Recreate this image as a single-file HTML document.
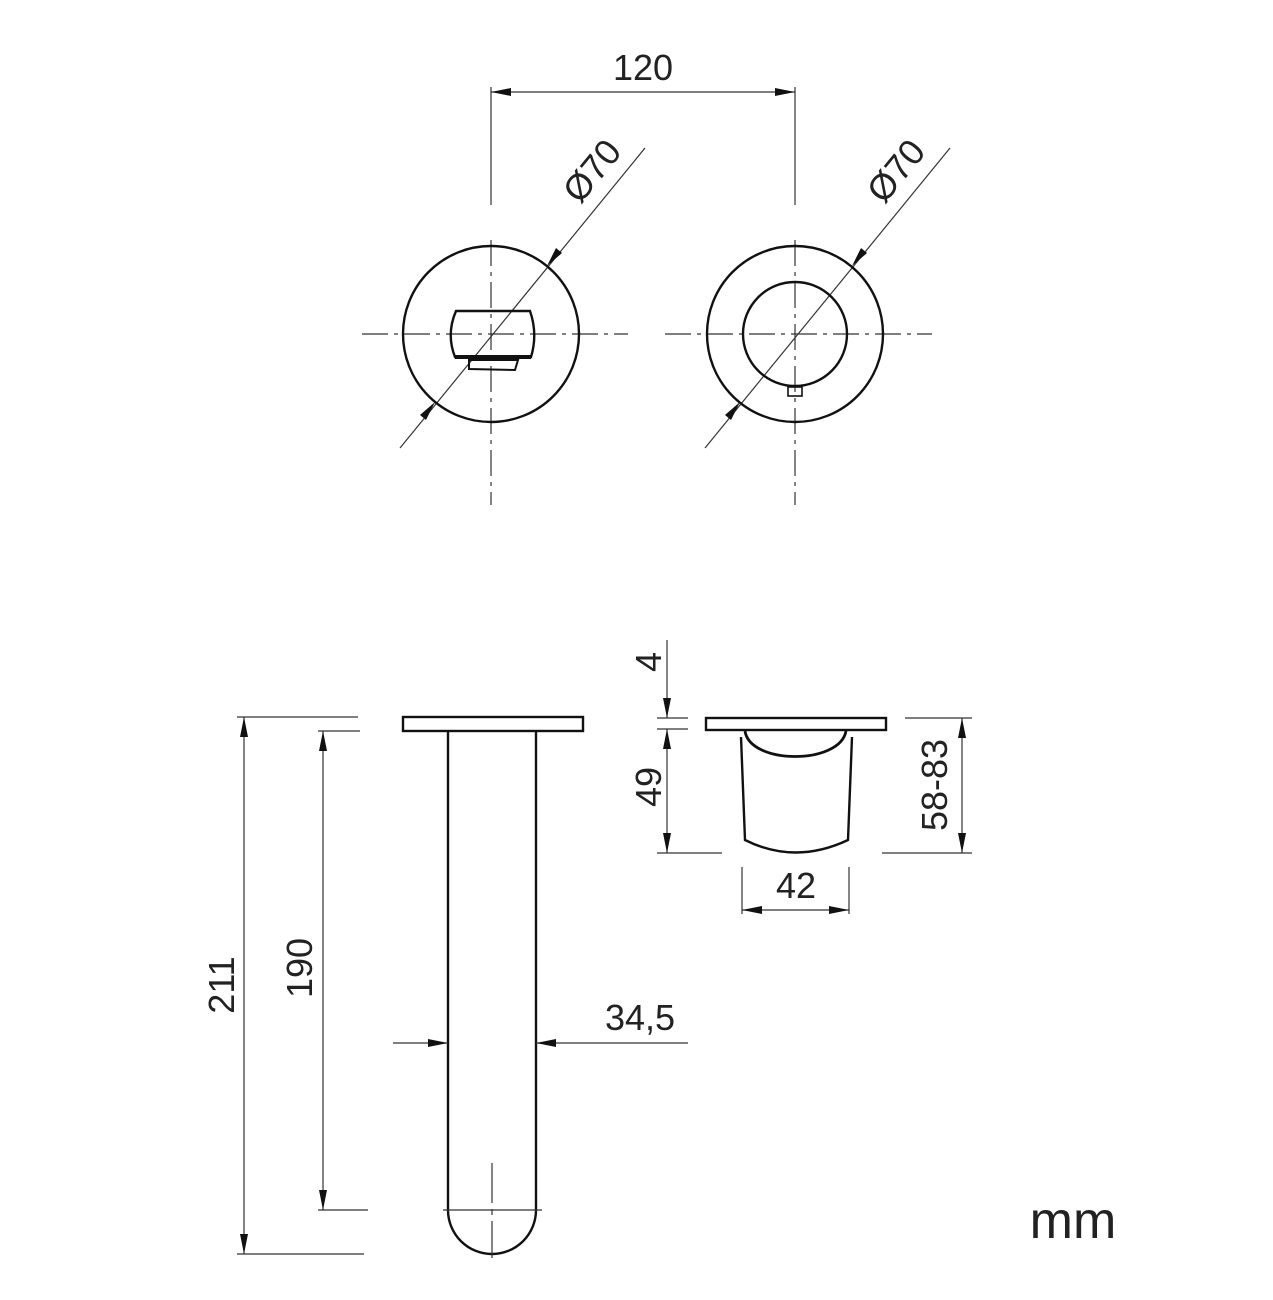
<!DOCTYPE html>
<html><head><meta charset="utf-8"><style>
html,body{margin:0;padding:0;background:#fff}
svg{display:block}
text{font-family:"Liberation Sans",sans-serif;fill:#222}
</style></head><body>
<svg width="1273" height="1300" viewBox="0 0 1273 1300" xmlns="http://www.w3.org/2000/svg">
<defs>
<marker id="a" viewBox="0 0 20 8" refX="20" refY="4" markerWidth="20" markerHeight="8" markerUnits="userSpaceOnUse" orient="auto-start-reverse"><path d="M0,0 L20,4 L0,8 z" fill="#111"/></marker>
</defs>
<g stroke="#333" stroke-width="1.2" fill="none">
<line x1="491" y1="87" x2="491" y2="205"/>
<line x1="795" y1="87" x2="795" y2="205"/>
<line x1="491" y1="92" x2="795" y2="92" marker-start="url(#a)" marker-end="url(#a)"/>
<g stroke-dasharray="26,6,4,6">
<line x1="362" y1="334" x2="628" y2="334"/>
<line x1="491" y1="240" x2="491" y2="505"/>
<line x1="665" y1="334" x2="932" y2="334"/>
<line x1="795" y1="240" x2="795" y2="505"/>
</g>
<line x1="400" y1="448" x2="645" y2="148"/>
<line x1="705" y1="448" x2="950" y2="148"/>
</g>
<g fill="#111">
<path d="M435,402 l-9,18 l-6,-5 z"/>
<path d="M547,266 l9,-18 l6,5 z"/>
<path d="M740,402 l-9,18 l-6,-5 z"/>
<path d="M852,266 l9,-18 l6,5 z"/>
</g>
<g stroke="#111" stroke-width="2.4" fill="none">
<circle cx="491" cy="334" r="88"/>
<circle cx="795" cy="334" r="88"/>
<circle cx="795" cy="334" r="52"/>
<rect x="788" y="387" width="14" height="9" stroke-width="1.6"/>
<path d="M456,311 L530,311 Q538,334 531,357 L455,357 Q446,334 456,311 Z"/>
<line x1="455" y1="357" x2="531" y2="357" stroke-width="4"/>
<path d="M469,360 L518,360 L515,370 L469,369 Z" stroke-width="2"/>
</g>
<text x="0" y="0" font-size="36" transform="translate(580,205) rotate(-50.8)">Ø70</text>
<text x="0" y="0" font-size="36" transform="translate(884,205) rotate(-50.8)">Ø70</text>
<text x="643" y="80" font-size="36" text-anchor="middle">120</text>

<g stroke="#111" stroke-width="2.4" fill="none">
<rect x="403" y="717" width="180" height="14"/>
<path d="M448,731 L448,1210 A44,44 0 0 0 536,1210 L536,731"/>
</g>
<g stroke="#333" stroke-width="1.2" fill="none">
<line x1="443" y1="1210" x2="542" y2="1210"/>
<line x1="492" y1="1163" x2="492" y2="1258" stroke-dasharray="40,6,6,6"/>
<line x1="237" y1="717" x2="358" y2="717"/>
<line x1="237" y1="1254" x2="364" y2="1254"/>
<line x1="244" y1="717" x2="244" y2="1254" marker-start="url(#a)" marker-end="url(#a)"/>
<line x1="318" y1="731" x2="360" y2="731"/>
<line x1="318" y1="1210" x2="368" y2="1210"/>
<line x1="323" y1="731" x2="323" y2="1210" marker-start="url(#a)" marker-end="url(#a)"/>
<line x1="393" y1="1043" x2="448" y2="1043" marker-end="url(#a)"/>
<line x1="536" y1="1043" x2="688" y2="1043" marker-start="url(#a)"/>
</g>
<text font-size="36" text-anchor="middle" transform="translate(234,985) rotate(-90)">211</text>
<text font-size="36" text-anchor="middle" transform="translate(312,968) rotate(-90)">190</text>
<text x="640" y="1030" font-size="36" text-anchor="middle">34,5</text>

<g stroke="#111" stroke-width="2.4" fill="none">
<rect x="706" y="718" width="180" height="12"/>
<path d="M741,737 L745,840 Q795,865 848,840 L852,737"/>
<path d="M745,731 C750,765 840,765 846,731" stroke-width="2.8"/>
</g>
<g stroke="#333" stroke-width="1.2" fill="none">
<line x1="667" y1="640" x2="667" y2="718" marker-end="url(#a)"/>
<line x1="657" y1="718" x2="688" y2="718"/>
<line x1="657" y1="729" x2="688" y2="729"/>
<line x1="667" y1="729" x2="667" y2="853" marker-start="url(#a)" marker-end="url(#a)"/>
<line x1="657" y1="853" x2="722" y2="853"/>
<line x1="905" y1="718" x2="972" y2="718"/>
<line x1="882" y1="853" x2="972" y2="853"/>
<line x1="962" y1="718" x2="962" y2="853" marker-start="url(#a)" marker-end="url(#a)"/>
<line x1="742" y1="867" x2="742" y2="914"/>
<line x1="849" y1="867" x2="849" y2="914"/>
<line x1="742" y1="910" x2="849" y2="910" marker-start="url(#a)" marker-end="url(#a)"/>
</g>
<text font-size="36" text-anchor="middle" transform="translate(661,662) rotate(-90)">4</text>
<text font-size="36" text-anchor="middle" transform="translate(661,787) rotate(-90)">49</text>
<text font-size="36" text-anchor="middle" transform="translate(947,785) rotate(-90)">58-83</text>
<text x="796" y="898" font-size="36" text-anchor="middle">42</text>
<text x="1073" y="1238" font-size="52" text-anchor="middle">mm</text>
</svg>
</body></html>
